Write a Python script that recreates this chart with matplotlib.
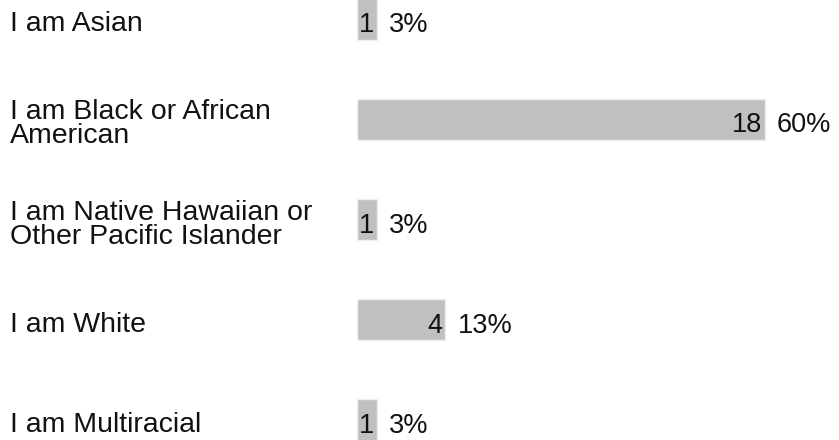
import matplotlib
matplotlib.use("Agg")
from matplotlib import pyplot as plt
from matplotlib import transforms

labels = ["I am Asian", "I am Black or African\nAmerican",
          "I am Native Hawaiian or\nOther Pacific Islander", "I am White",
          "I am Multiracial"]
counts = [1, 18, 1, 4, 1]
percent_vals = [3, 60, 3, 13, 3]

plt.rcParams['font.family'] = ['Liberation Sans', 'DejaVu Sans']

W, H = 839, 440
fig = plt.figure(figsize=(W / 100, H / 100), dpi=100)
left = 357
ax = fig.add_axes([left / W, 0, (W - left) / W, 1])
# bar length follows the rounded percentage (60% -> about 408 px)
ax.set_xlim(0, (W - left) / 6.8)
step = 100.4
ax.set_ylim(4 + 20 / step, -19 / step)
ax.axis("off")

ypos = list(range(len(labels)))
ax.barh(ypos, percent_vals, height=0.41, left=0, color="#c0c0c0",
        edgecolor="#efefef", linewidth=1)

lab_tr = transforms.blended_transform_factory(fig.transFigure, ax.transData)
for i, (lab, n, p) in enumerate(zip(labels, counts, percent_vals)):
    ax.text(10 / W, i + 0.05, lab, transform=lab_tr, ha="left", va="center",
            fontsize=20.5, linespacing=0.9, color="#111111")
    ax.annotate(str(n), xy=(p, i), xytext=(-3, -6), textcoords="offset pixels",
                ha="right", va="center", fontsize=19.5, color="#111111")
    ax.annotate(f"{p}%", xy=(p, i), xytext=(12, -6), textcoords="offset pixels",
                ha="left", va="center", fontsize=19.5, color="#111111")

fig.savefig("out.png", dpi=100)
